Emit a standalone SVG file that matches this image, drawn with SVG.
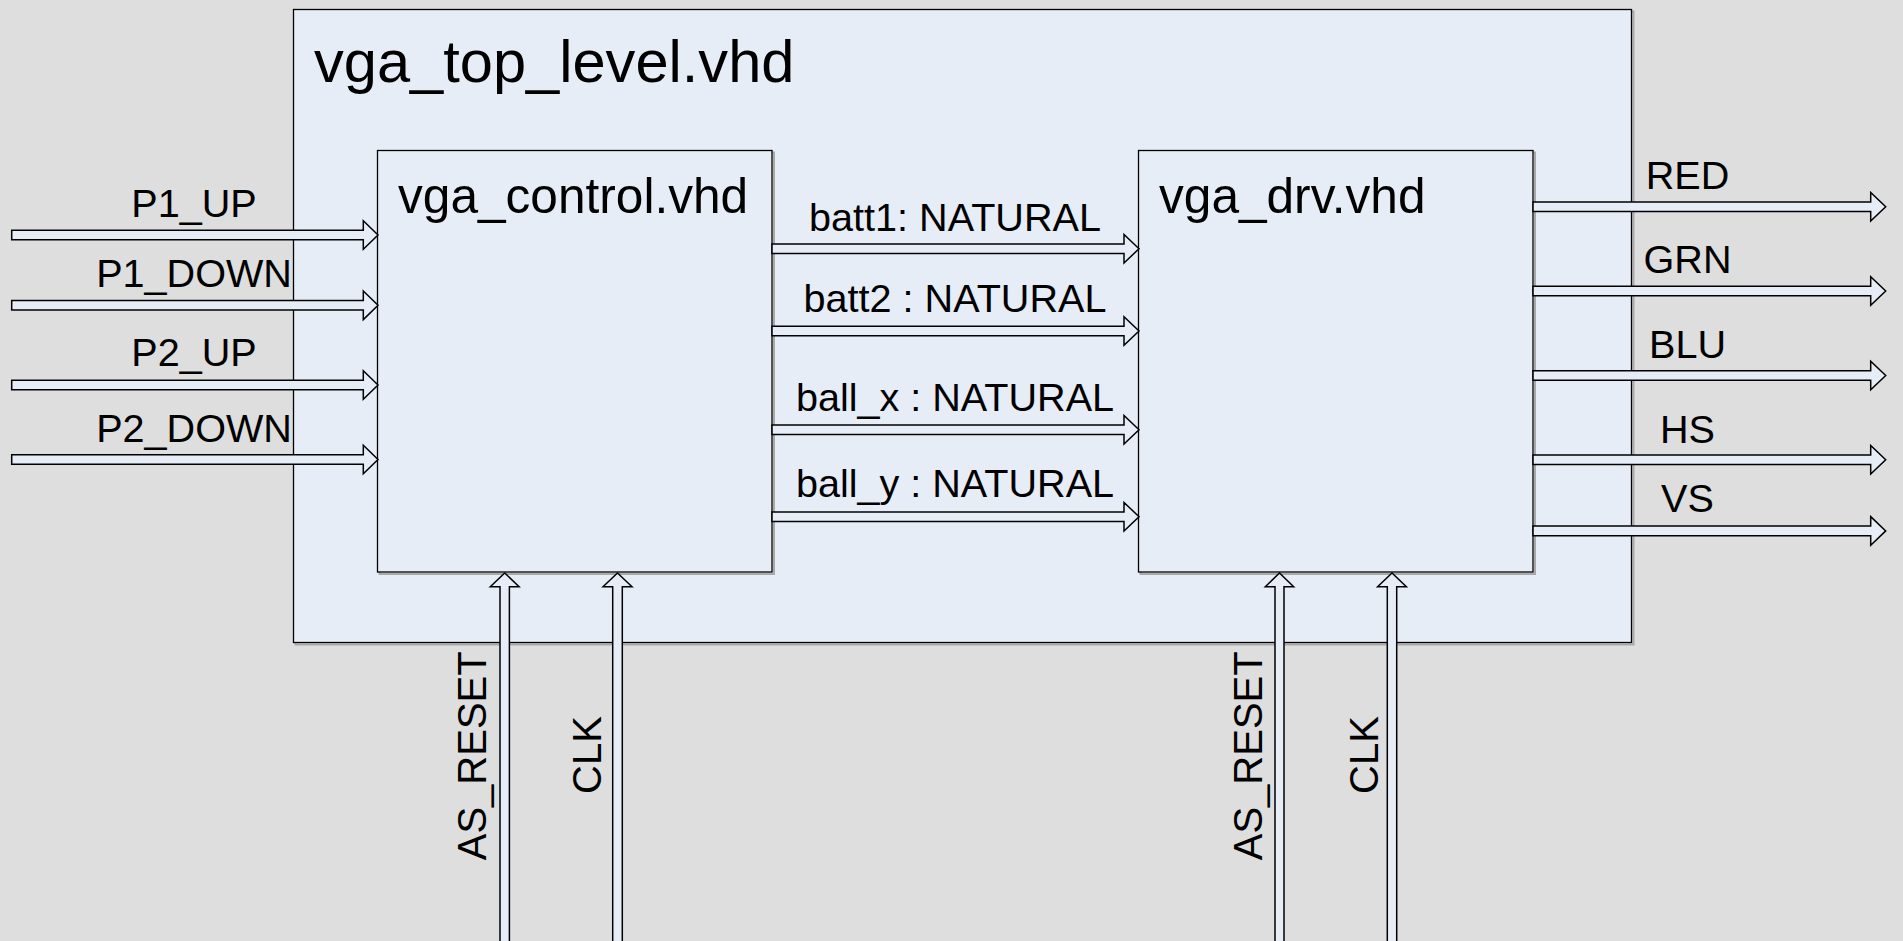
<svg xmlns="http://www.w3.org/2000/svg" width="1903" height="941" viewBox="0 0 1903 941">
<style>
.box{fill:#e7edf7;stroke:#000;stroke-width:1.3}
.shadow{fill:none;stroke:#a9a9a9;stroke-width:2}
.arr{fill:#e7edf7;stroke:#000;stroke-width:1.5;stroke-linejoin:miter}
text{font-family:"Liberation Sans",Arial,sans-serif;fill:#000}
.t39{font-size:39.6px}
.t40{font-size:40px}
.mid{text-anchor:middle}
</style>
<rect x="0" y="0" width="1903" height="941" fill="#dedede"/>
<g id="vga_top_level">
<rect class="shadow" x="295.5" y="11.5" width="1338" height="633"/>
<rect class="box" x="293.5" y="9.5" width="1338" height="633"/>
<text x="314" y="82" style="font-size:59.6px">vga_top_level.vhd</text>
</g>
<g id="vga_control">
<rect class="shadow" x="379.5" y="152.5" width="394.5" height="421.5"/>
<rect class="box" x="377.5" y="150.5" width="394.5" height="421.5"/>
<text x="398" y="213" style="font-size:49.6px">vga_control.vhd</text>
</g>
<g id="vga_drv">
<rect class="shadow" x="1140.5" y="152.5" width="394.5" height="421.5"/>
<rect class="box" x="1138.5" y="150.5" width="394.5" height="421.5"/>
<text x="1159" y="213" style="font-size:49.6px">vga_drv.vhd</text>
</g>
<g id="connectors">
<path class="arr" d="M11.7,230.2 H363.3 V220.7 L378,235 L363.3,249.3 V239.8 H11.7 Z"/>
<path class="arr" d="M11.7,300.5 H363.3 V291 L378,305.3 L363.3,319.6 V310.1 H11.7 Z"/>
<path class="arr" d="M11.7,380.2 H363.3 V370.7 L378,385 L363.3,399.3 V389.8 H11.7 Z"/>
<path class="arr" d="M11.7,454.7 H363.3 V445.2 L378,459.5 L363.3,473.8 V464.3 H11.7 Z"/>
<path class="arr" d="M772,243.9 H1124 V234.4 L1139,248.7 L1124,263 V253.5 H772 Z"/>
<path class="arr" d="M772,326.2 H1124 V316.7 L1139,331 L1124,345.3 V335.8 H772 Z"/>
<path class="arr" d="M772,424.9 H1124 V415.4 L1139,429.7 L1124,444 V434.5 H772 Z"/>
<path class="arr" d="M772,511.9 H1124 V502.4 L1139,516.7 L1124,531 V521.5 H772 Z"/>
<path class="arr" d="M1533,201.9 H1870.7 V192.4 L1885.7,206.7 L1870.7,221 V211.5 H1533 Z"/>
<path class="arr" d="M1533,286.2 H1870.7 V276.7 L1885.7,291 L1870.7,305.3 V295.8 H1533 Z"/>
<path class="arr" d="M1533,370.7 H1870.7 V361.2 L1885.7,375.5 L1870.7,389.8 V380.3 H1533 Z"/>
<path class="arr" d="M1533,454.9 H1870.7 V445.4 L1885.7,459.7 L1870.7,474 V464.5 H1533 Z"/>
<path class="arr" d="M1533,526.1 H1870.7 V516.6 L1885.7,530.9 L1870.7,545.2 V535.7 H1533 Z"/>
<path class="arr" d="M500,945 V586.7 H490.3 L504.7,573 L519.1,586.7 H509.4 V945 Z"/>
<path class="arr" d="M612.7,945 V586.7 H603 L617.5,573 L632,586.7 H622.3 V945 Z"/>
<path class="arr" d="M1275,945 V586.7 H1265.3 L1279.5,573 L1293.7,586.7 H1284 V945 Z"/>
<path class="arr" d="M1387.3,945 V586.7 H1377.6 L1392,573 L1406.4,586.7 H1396.7 V945 Z"/>
</g>
<g id="labels">
<text class="t39 mid" x="194" y="216.7">P1_UP</text>
<text class="t39 mid" x="194" y="287.3">P1_DOWN</text>
<text class="t39 mid" x="194" y="366">P2_UP</text>
<text class="t39 mid" x="194" y="441.7">P2_DOWN</text>
<text class="t39 mid" x="955" y="230.7">batt1: NATURAL</text>
<text class="t39 mid" x="955" y="311.7">batt2 : NATURAL</text>
<text class="t39 mid" x="955" y="410.7">ball_x : NATURAL</text>
<text class="t39 mid" x="955" y="496.7">ball_y : NATURAL</text>
<text class="t39 mid" x="1687.5" y="189">RED</text>
<text class="t39 mid" x="1687.5" y="273.3">GRN</text>
<text class="t39 mid" x="1687.5" y="357.7">BLU</text>
<text class="t39 mid" x="1687.5" y="443.3">HS</text>
<text class="t39 mid" x="1687.5" y="512.3">VS</text>
<text class="t40 mid" transform="translate(485.7,755.8) rotate(-90)">AS_RESET</text>
<text class="t40 mid" transform="translate(600.5,755) rotate(-90)">CLK</text>
<text class="t40 mid" transform="translate(1261.7,755.8) rotate(-90)">AS_RESET</text>
<text class="t40 mid" transform="translate(1378,755) rotate(-90)">CLK</text>
</g>
</svg>
